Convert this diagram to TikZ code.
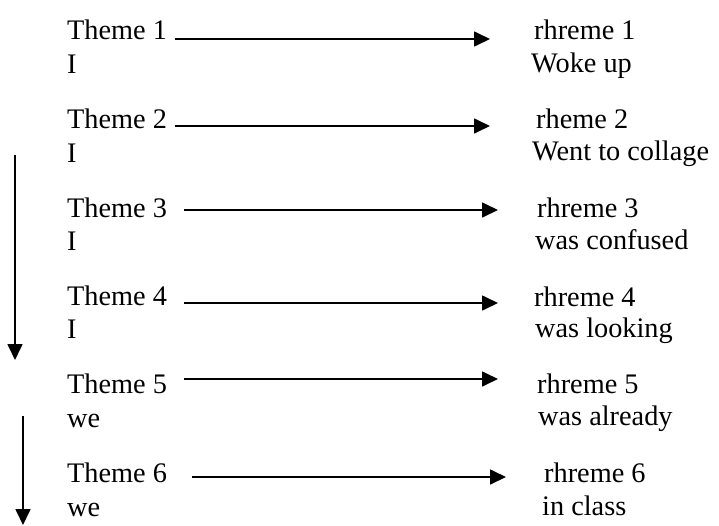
\documentclass[tikz,border=0pt]{standalone}
\usepackage{fontspec}
\setmainfont{Liberation Serif}
\usetikzlibrary{arrows.meta}
\begin{document}
\begin{tikzpicture}[x=1pt,y=-1pt,
  lbl/.style={anchor=base west,inner sep=0pt,font=\fontsize{28.3}{30}\selectfont},
  arr/.style={line width=1.7pt,-{Triangle[length=16pt,width=15pt]}}]
\useasboundingbox (0,0) rectangle (719,525);
% left column: themes and subjects
\node[lbl] (t1) at (67,39) {Theme 1};
\node[lbl] (s1) at (67,73) {I};
\node[lbl] (t2) at (67,128) {Theme 2};
\node[lbl] (s2) at (67,162) {I};
\node[lbl] (t3) at (67,217) {Theme 3};
\node[lbl] (s3) at (67,250) {I};
\node[lbl] (t4) at (67,305) {Theme 4};
\node[lbl] (s4) at (67,338) {I};
\node[lbl] (t5) at (67,393) {Theme 5};
\node[lbl] (s5) at (67,427) {we};
\node[lbl] (t6) at (67,482) {Theme 6};
\node[lbl] (s6) at (67,516) {we};
% right column: rhemes
\node[lbl] (r1) at (534,39) {rhreme 1};
\node[lbl] (c1) at (531,72) {Woke up};
\node[lbl] (r2) at (536,128) {rheme 2};
\node[lbl] (c2) at (532,160) {Went to collage};
\node[lbl] (r3) at (537,217) {rhreme 3};
\node[lbl] (c3) at (535,249) {was confused};
\node[lbl] (r4) at (534,306) {rhreme 4};
\node[lbl] (c4) at (535,337) {was looking};
\node[lbl] (r5) at (537,393) {rhreme 5};
\node[lbl] (c5) at (538,425) {was already};
\node[lbl] (r6) at (544,482) {rhreme 6};
\node[lbl] (c6) at (542,515) {in class};
% arrow end points
\coordinate (a1s) at (175,39);  \coordinate (a1e) at (490,39);
\coordinate (a2s) at (175,126); \coordinate (a2e) at (490,126);
\coordinate (a3s) at (184,210); \coordinate (a3e) at (498,210);
\coordinate (a4s) at (184,303); \coordinate (a4e) at (498,303);
\coordinate (a5s) at (184,379); \coordinate (a5e) at (498,379);
\coordinate (a6s) at (192,477); \coordinate (a6e) at (506,477);
\coordinate (v1s) at (15,155);  \coordinate (v1e) at (15,360);
\coordinate (v2s) at (23,416);  \coordinate (v2e) at (23,525);
% theme to rheme arrows
\draw[arr] (a1s) -- (a1e);
\draw[arr] (a2s) -- (a2e);
\draw[arr] (a3s) -- (a3e);
\draw[arr] (a4s) -- (a4e);
\draw[arr] (a5s) -- (a5e);
\draw[arr] (a6s) -- (a6e);
% downward arrows
\draw[arr] (v1s) -- (v1e);
\draw[arr] (v2s) -- (v2e);
\end{tikzpicture}
\end{document}
